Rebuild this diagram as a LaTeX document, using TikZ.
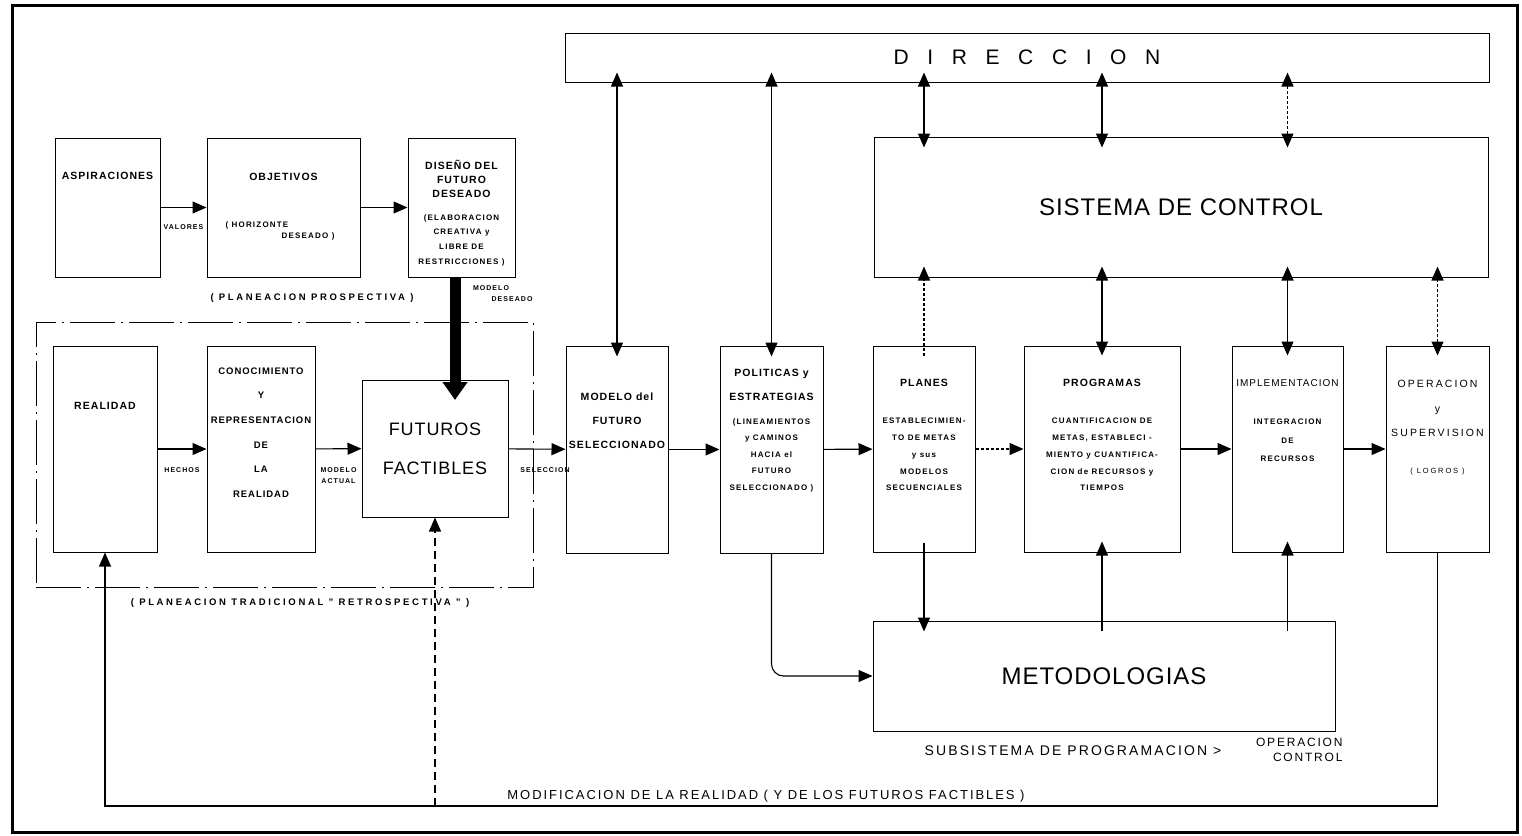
\documentclass[tikz,border=0pt]{standalone}
\usepackage{fontspec}
\setmainfont{Liberation Sans}
\usepackage{tikz}
\usetikzlibrary{arrows.meta}

\begin{document}
\begin{tikzpicture}[x=1pt,y=-1pt,
    tip/.style={-{Triangle[length=14pt,width=12pt]}},
    tips/.style={{Triangle[length=14pt,width=12pt]}-{Triangle[length=14pt,width=12pt]}},
    box/.style={draw,line width=1pt,inner sep=0pt},
    link/.style={line width=1.1pt},
    deep/.style={shorten <=-10pt,shorten >=-11pt},
    big/.style={font=\fontsize{24pt}{28pt}\selectfont\addfontfeature{LetterSpace=4}},
    med/.style={align=center,font=\fontsize{10.5pt}{#1}\selectfont\bfseries\addfontfeature{LetterSpace=10}},
    med/.default=24pt,
    sub/.style={align=center,font=\fontsize{8pt}{#1}\selectfont\bfseries\addfontfeature{LetterSpace=15}},
    sub/.default=16.75pt,
    lbl/.style={align=center,inner sep=1pt,font=\fontsize{7pt}{11pt}\selectfont\bfseries\addfontfeature{LetterSpace=15}},
    note/.style={font=\fontsize{9.5pt}{10pt}\selectfont\bfseries\addfontfeature{LetterSpace=28}},
    hand/.style={align=center,font=\fontsize{#1}{15pt}\selectfont\addfontfeature{LetterSpace=15}}]
    \useasboundingbox (0,0) rectangle (1522,835);
    \draw[line width=3pt] (12,5) rectangle (1517,832);

    \node[box,minimum width=924pt,minimum height=49pt,font=\fontsize{21pt}{24pt}\selectfont] (DIR) at (1027,57.5) {\spaceskip=18.6pt\relax D I R E C C I O N};
    \node[box,big,minimum width=614pt,minimum height=140pt] (SIS) at (1181,207) {SISTEMA DE CONTROL};
    \node[box,big,minimum width=462pt,minimum height=110pt] (MET) at (1104,676) {METODOLOGIAS};

    \node[box,minimum width=105pt,minimum height=139pt] (ASP) at (107.5,207.5) {};
    \node[box,minimum width=153pt,minimum height=139pt] (OBJ) at (283.5,207.5) {};
    \node[box,minimum width=107pt,minimum height=139pt] (DIS) at (461.5,207.5) {};
    \node[draw,line width=1pt,dash pattern=on 45pt off 6pt on 2pt off 6pt,minimum width=497pt,minimum height=265pt] (RET) at (284.5,454.5) {};
    \node[box,minimum width=104pt,minimum height=206pt] (REA) at (105,449) {};
    \node[box,minimum width=108pt,minimum height=206pt] (CON) at (261,449) {};
    \node[box,minimum width=146pt,minimum height=137pt,align=center,font=\fontsize{18pt}{39pt}\selectfont\addfontfeature{LetterSpace=5}] (FUT) at (435,448.5) {FUTUROS\\FACTIBLES};
    \node[box,minimum width=102pt,minimum height=207pt] (MOD) at (617,449.5) {};
    \node[box,minimum width=103pt,minimum height=207pt] (POL) at (771.5,449.5) {};
    \node[box,minimum width=102pt,minimum height=206pt] (PLA) at (924,449) {};
    \node[box,minimum width=156pt,minimum height=206pt] (PRO) at (1102,449) {};
    \node[box,minimum width=111pt,minimum height=206pt] (IMP) at (1287.5,449) {};
    \node[box,minimum width=103pt,minimum height=206pt] (OPE) at (1437.5,449) {};

    \node[med] (ASPt) at (107.5,176) {ASPIRACIONES};
    \node[med] (OBJt) at (283.5,177) {OBJETIVOS};
    \node[sub,anchor=west] (OBJa) at (222,225) {( HORIZONTE};
    \node[sub,anchor=east] (OBJb) at (338,236) {DESEADO )};
    \node[med=14pt] (DISt) at (461.5,179) {DISEÑO DEL\\FUTURO\\DESEADO};
    \node[sub=14.7pt] (DISs) at (461.5,240) {(ELABORACION\\CREATIVA y\\LIBRE DE\\RESTRICCIONES )};
    \node[note] (PRS) at (312,298) {( PLANEACION PROSPECTIVA )};
    \node[lbl] (MDa) at (491,288) {MODELO};
    \node[lbl] (MDb) at (512,299) {DESEADO};
    \node[med] (REAt) at (105,406) {REALIDAD};
    \node[align=center,font=\fontsize{9.5pt}{24.6pt}\selectfont\bfseries\addfontfeature{LetterSpace=10}] (CONt) at (261,432.5) {CONOCIMIENTO\\Y\\REPRESENTACION\\DE\\LA\\REALIDAD};
    \node[note] (TRA) at (300,603) {( PLANEACION TRADICIONAL " RETROSPECTIVA " )};
    \node[med] (MODt) at (617,421) {MODELO del\\FUTURO\\SELECCIONADO};
    \node[med] (POLt) at (771.5,385) {POLITICAS y\\ESTRATEGIAS};
    \node[sub=16.5pt] (POLs) at (771.5,455) {(LINEAMIENTOS\\y CAMINOS\\HACIA el\\FUTURO\\SELECCIONADO )};
    \node[med] (PLAt) at (924,383) {PLANES};
    \node[sub] (PLAs) at (924,454.5) {ESTABLECIMIEN-\\TO DE METAS\\y sus\\MODELOS\\SECUENCIALES};
    \node[med] (PROt) at (1102,383) {PROGRAMAS};
    \node[sub] (PROs) at (1102,454.5) {CUANTIFICACION DE\\METAS, ESTABLECI -\\MIENTO y CUANTIFICA-\\CION de RECURSOS y\\TIEMPOS};
    \node[font=\fontsize{10pt}{12pt}\selectfont\addfontfeature{LetterSpace=10}] (IMPt) at (1287.5,383) {IMPLEMENTACION};
    \node[sub=18.5pt] (IMPs) at (1287.5,440.5) {INTEGRACION\\DE\\RECURSOS};
    \node[align=center,font=\fontsize{10.5pt}{24.5pt}\selectfont\addfontfeature{LetterSpace=20}] (OPEt) at (1437.5,408.5) {OPERACION\\y\\SUPERVISION};
    \node[font=\fontsize{7.5pt}{8pt}\selectfont\addfontfeature{LetterSpace=25}] (OPEs) at (1437.5,472) {( LOGROS )};
    \node[hand=14pt] (SUB) at (1073,751) {SUBSISTEMA DE PROGRAMACION >};
    \node[hand=12pt,align=right,anchor=east] (OPC) at (1346,749.5) {OPERACION\\CONTROL};
    \node[hand=13pt] (MODIF) at (766,796) {MODIFICACION DE LA REALIDAD ( Y DE LOS FUTUROS FACTIBLES )};

    \coordinate (MD) at (455,380);
    \coordinate (LOOP) at (0,806);

    \path[tip,link] (ASP) edge node[lbl,below=16pt] (VAL) {VALORES} (OBJ);
    \path[tip,link] (OBJ) edge (DIS);
    \path[tip,link] (REA) edge node[lbl,below=17pt] (HEC) {HECHOS} (CON);
    \path[tip,link] (CON) edge node[lbl,below=17pt] (ACT) {MODELO\\ACTUAL} (FUT);
    \path[tip,link] (FUT) edge node[lbl,below=17pt,xshift=8pt] (SEL) {SELECCION} (MOD);
    \path[tip,link] (MOD) edge (POL);
    \path[tip,link] (POL) edge (PLA);
    \path[tip,link,densely dashed] (PLA) edge (PRO);
    \path[tip,link] (PRO) edge (IMP);
    \path[tip,link] (IMP) edge (OPE);

    \draw[line width=11pt,-{Triangle[length=18pt,width=24pt]},shorten >=-20pt] (MD |- DIS.south) -- (MD);

    \draw[tips,link,deep] (MOD.north |- DIR.south) -- (MOD.north);
    \draw[tips,link,deep] (POL.north |- DIR.south) -- (POL.north);
    \draw[tips,link,deep] (PLA.north |- DIR.south) -- (PLA.north |- SIS.north);
    \draw[tips,link,deep] (PRO.north |- DIR.south) -- (PRO.north |- SIS.north);
    \draw[tips,link,deep,densely dashed] (IMP.north |- DIR.south) -- (IMP.north |- SIS.north);
    \draw[tip,link,deep,densely dashed] (PLA.north) -- (PLA.north |- SIS.south);
    \draw[tips,link,deep] (PRO.north) -- (PRO.north |- SIS.south);
    \draw[tips,link,deep] (IMP.north) -- (IMP.north |- SIS.south);
    \draw[tips,link,deep,densely dashed] (OPE.north) -- (OPE.north |- SIS.south);

    \draw[tip,link,rounded corners=12pt] (POL.south) |- (MET.west);
    \draw[tip,link,deep] (PLA.south) -- (PLA.south |- MET.north);
    \draw[tip,link,deep] (PRO.south |- MET.north) -- (PRO.south);
    \draw[tip,link,deep] (IMP.south |- MET.north) -- (IMP.south);

    \draw[tip,link] (OPE.south) -- (OPE.south |- LOOP) -| (REA.south);
    \draw[tip,link,dash pattern=on 8pt off 5pt] (FUT.south |- LOOP) -- (FUT.south);
\end{tikzpicture}
\end{document}
